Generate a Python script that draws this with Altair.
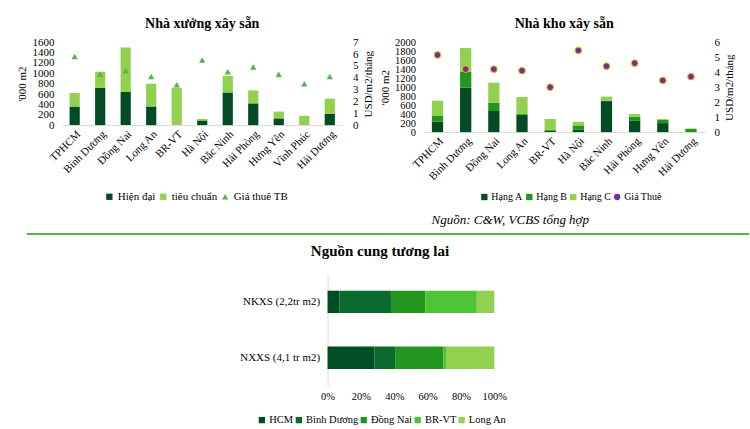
import altair as alt
import pandas as pd

FONT = "Liberation Serif"

# ---------- Nhà xưởng xây sẵn ----------
cats1 = ["TPHCM", "Bình Dương", "Đồng Nai", "Long An", "BR-VT", "Hà Nội",
         "Bắc Ninh", "Hải Phòng", "Hưng Yên", "Vĩnh Phúc", "Hải Dương"]
hien_dai = [350, 720, 640, 360, 0, 90, 630, 420, 130, 0, 220]
tieu_chuan = [270, 310, 860, 440, 720, 30, 320, 250, 130, 180, 290]
gia_tb1 = [5.8, 4.3, 4.6, 4.1, 3.4, 5.5, 4.5, 4.9, 4.3, 3.5, 4.1]
ser1 = ["Hiện đại", "tiêu chuẩn", "Giá thuê TB"]
col1 = ["#024C24", "#92D050", "#55B34C"]
shp1 = ["square", "square", "triangle-up"]

# ---------- Nhà kho xây sẵn ----------
cats2 = ["TPHCM", "Bình Dương", "Đồng Nai", "Long An", "BR-VT", "Hà Nội",
         "Bắc Ninh", "Hải Phòng", "Hưng Yên", "Hải Dương"]
hang_a = [230, 990, 470, 380, 30, 50, 690, 250, 200, 0]
hang_b = [140, 350, 180, 20, 15, 100, 10, 90, 70, 70]
hang_c = [330, 530, 450, 380, 245, 80, 90, 60, 20, 10]
gia_thue2 = [5.15, 4.2, 4.2, 4.1, 3.0, 5.45, 4.4, 4.6, 3.45, 3.7]
ser2 = ["Hạng A", "Hạng B", "Hạng C", "Giá Thuê"]
col2 = ["#024C24", "#22961F", "#92D050", "#7030A0"]
shp2 = ["square", "square", "square", "circle"]

# ---------- Nguồn cung tương lai ----------
rows3 = ["NKXS (2,2tr m2)", "NXXS (4,1 tr m2)"]
regions3 = ["HCM", "Bình Dương", "Đồng Nai", "BR-VT", "Long An"]
nkxs = [7, 31, 20.5, 31, 10.5]
nxxs = [28, 12.5, 29, 1.5, 29]
col3 = ["#004D23", "#0B6B2E", "#22961F", "#4CC435", "#92D050"]

source_text = "Nguồn: C&W, VCBS tổng hợp"

# ---------- data frames ----------
df1b = pd.DataFrame(
    [{"cat": c, "s1": ser1[0], "val": v, "ord": 0} for c, v in zip(cats1, hien_dai)]
    + [{"cat": c, "s1": ser1[1], "val": v, "ord": 1} for c, v in zip(cats1, tieu_chuan)]
)
df1p = pd.DataFrame({"cat": cats1, "gia": gia_tb1, "s1": ser1[2]})

df2b = pd.DataFrame(
    [{"cat": c, "s2": ser2[0], "val": v, "ord": 0} for c, v in zip(cats2, hang_a)]
    + [{"cat": c, "s2": ser2[1], "val": v, "ord": 1} for c, v in zip(cats2, hang_b)]
    + [{"cat": c, "s2": ser2[2], "val": v, "ord": 2} for c, v in zip(cats2, hang_c)]
)
df2p = pd.DataFrame({"cat": cats2, "gia": gia_thue2, "s2": ser2[3]})

df3 = pd.DataFrame(
    [{"row": rows3[0], "region": r, "val": v, "ord": i} for i, (r, v) in enumerate(zip(regions3, nkxs))]
    + [{"row": rows3[1], "region": r, "val": v, "ord": i} for i, (r, v) in enumerate(zip(regions3, nxxs))]
)


def xaxis():
    return alt.Axis(title=None, labelAngle=-45, ticks=False, domainColor="#D9D9D9",
                    labelFontSize=11, labelPadding=3, labelColor="#000000")


def left_axis(title, values, size=11):
    return alt.Axis(title=title, values=values, format="d", grid=False, domain=False,
                    ticks=False, labelFontSize=size, labelPadding=8, titlePadding=4,
                    titleFontSize=11, titleFontWeight="normal", labelColor="#000000",
                    titleColor="#000000", labelOverlap=False)


def right_axis(title, values, pad):
    return alt.Axis(title=title, orient="right", values=values, format="d", grid=False,
                    domain=False, ticks=False, labelFontSize=11, labelPadding=pad,
                    titlePadding=4, titleFontSize=11, titleFontWeight="normal",
                    titleAngle=270, titleBaseline="top", labelOverlap=False,
                    labelColor="#000000", titleColor="#000000")


def legend(x, y, size=11, pad=2, offset=3):
    return alt.Legend(orient="none", legendX=x, legendY=y, direction="horizontal",
                      title=None, symbolSize=40, labelFontSize=size, labelColor="#000000",
                      columnPadding=pad, labelOffset=offset, symbolStrokeWidth=0)


# ---------- chart 1 ----------
x1 = alt.X("cat:N", sort=cats1, scale=alt.Scale(paddingInner=0.6, paddingOuter=0.3), axis=xaxis())
leg1 = legend(42, 149, 11, 2, 3)
bars1 = alt.Chart(df1b).mark_bar().encode(
    x=x1,
    y=alt.Y("val:Q", stack="zero", scale=alt.Scale(domain=[0, 1600]),
            axis=left_axis("'000 m2", list(range(0, 1601, 200)))),
    color=alt.Color("s1:N", scale=alt.Scale(domain=ser1, range=col1), legend=leg1),
    order=alt.Order("ord:Q"),
)
pts1 = alt.Chart(df1p).mark_point(filled=True, size=40, opacity=1).encode(
    x=x1,
    y=alt.Y("gia:Q", scale=alt.Scale(domain=[0, 7]),
            axis=right_axis("USD/m2/tháng", list(range(0, 8)), 10)),
    color=alt.Color("s1:N", scale=alt.Scale(domain=ser1, range=col1), legend=leg1),
    shape=alt.Shape("s1:N", scale=alt.Scale(domain=ser1, range=shp1), legend=leg1),
)
chart1 = alt.layer(bars1, pts1).resolve_scale(y="independent").properties(
    width=281, height=83,
    title=alt.TitleParams("Nhà xưởng xây sẵn", frame="group", fontSize=14, font=FONT,
                          fontWeight="bold", offset=5),
)

# ---------- chart 2 ----------
x2 = alt.X("cat:N", sort=cats2, scale=alt.Scale(paddingInner=0.6, paddingOuter=0.3), axis=xaxis())
leg2 = legend(56, 150, 10, 1, 2)
bars2 = alt.Chart(df2b).mark_bar().encode(
    x=x2,
    y=alt.Y("val:Q", stack="zero", scale=alt.Scale(domain=[0, 2000]),
            axis=left_axis("'000 m2", list(range(0, 2001, 200)), 10.5)),
    color=alt.Color("s2:N", scale=alt.Scale(domain=ser2, range=col2), legend=leg2),
    order=alt.Order("ord:Q"),
)
pts2 = alt.Chart(df2p).mark_point(filled=True, size=45, opacity=1, stroke="#FFC000",
                                   strokeWidth=1).encode(
    x=x2,
    y=alt.Y("gia:Q", scale=alt.Scale(domain=[0, 6]),
            axis=right_axis("USD/m2/tháng", list(range(0, 7)), 9)),
    color=alt.Color("s2:N", scale=alt.Scale(domain=ser2, range=col2), legend=leg2),
    shape=alt.Shape("s2:N", scale=alt.Scale(domain=ser2, range=shp2), legend=leg2),
)
chart2 = alt.layer(bars2, pts2).resolve_scale(y="independent").properties(
    width=282, height=90,
    title=alt.TitleParams("Nhà kho xây sẵn", frame="group", fontSize=14, font=FONT,
                          fontWeight="bold", offset=5),
)

top_row = alt.hconcat(chart1, chart2, spacing=6).resolve_scale(
    color="independent", shape="independent")

# ---------- source + separator ----------
src = alt.Chart(pd.DataFrame({"t": [source_text]}))
src_text = src.mark_text(font=FONT, fontSize=13, fontStyle="italic", color="#000000").encode(
    text="t:N", x=alt.value(449), y=alt.value(18))
src_rule = src.mark_rule(color="#55B048", strokeWidth=2).encode(
    x=alt.value(-35), x2=alt.value(688), y=alt.value(32))
source_row = alt.layer(src_text, src_rule).properties(width=680, height=41.5)

# ---------- chart 3 ----------
bars3 = alt.Chart(df3).mark_bar().encode(
    y=alt.Y("row:N", sort=rows3, scale=alt.Scale(paddingInner=0.6, paddingOuter=0.3),
            axis=alt.Axis(title=None, ticks=False, domainColor="#D9D9D9", labelPadding=8,
                          labelFontSize=11, labelColor="#000000")),
    x=alt.X("val:Q", stack="zero", scale=alt.Scale(domain=[0, 100]),
            axis=alt.Axis(title=None, values=[0, 20, 40, 60, 80, 100],
                          labelExpr="datum.value + '%'", grid=False, domain=False,
                          ticks=False, labelFontSize=10.5, labelPadding=6,
                          labelFlush=False, labelOverlap=False, labelColor="#000000")),
    color=alt.Color("region:N", scale=alt.Scale(domain=regions3, range=col3),
                    legend=legend(-71, 141, 10.5, 0, 2)),
    order=alt.Order("ord:Q"),
).properties(
    width=167, height=112,
    title=alt.TitleParams("Nguồn cung tương lai", fontSize=15, font=FONT,
                          fontWeight="bold", offset=15, frame="group", dx=-31),
)

spacer = alt.Chart(pd.DataFrame({"v": [0]})).mark_point(opacity=0).encode(
    x=alt.value(0), y=alt.value(0)).properties(width=157, height=10)
bottom_row = alt.hconcat(spacer, bars3, spacing=20).resolve_scale(color="independent")

chart = alt.vconcat(top_row, source_row, bottom_row, spacing=0).resolve_scale(
    color="independent", shape="independent"
).properties(
    padding={"left": 17, "top": 17, "right": 0, "bottom": 0}
).configure(font=FONT).configure_view(stroke=None).configure_axis(
    labelFont=FONT, titleFont=FONT
).configure_legend(labelFont=FONT).configure_title(font=FONT, color="#000000")

chart.save("out.html", embed_options={"renderer": "svg", "actions": False})
